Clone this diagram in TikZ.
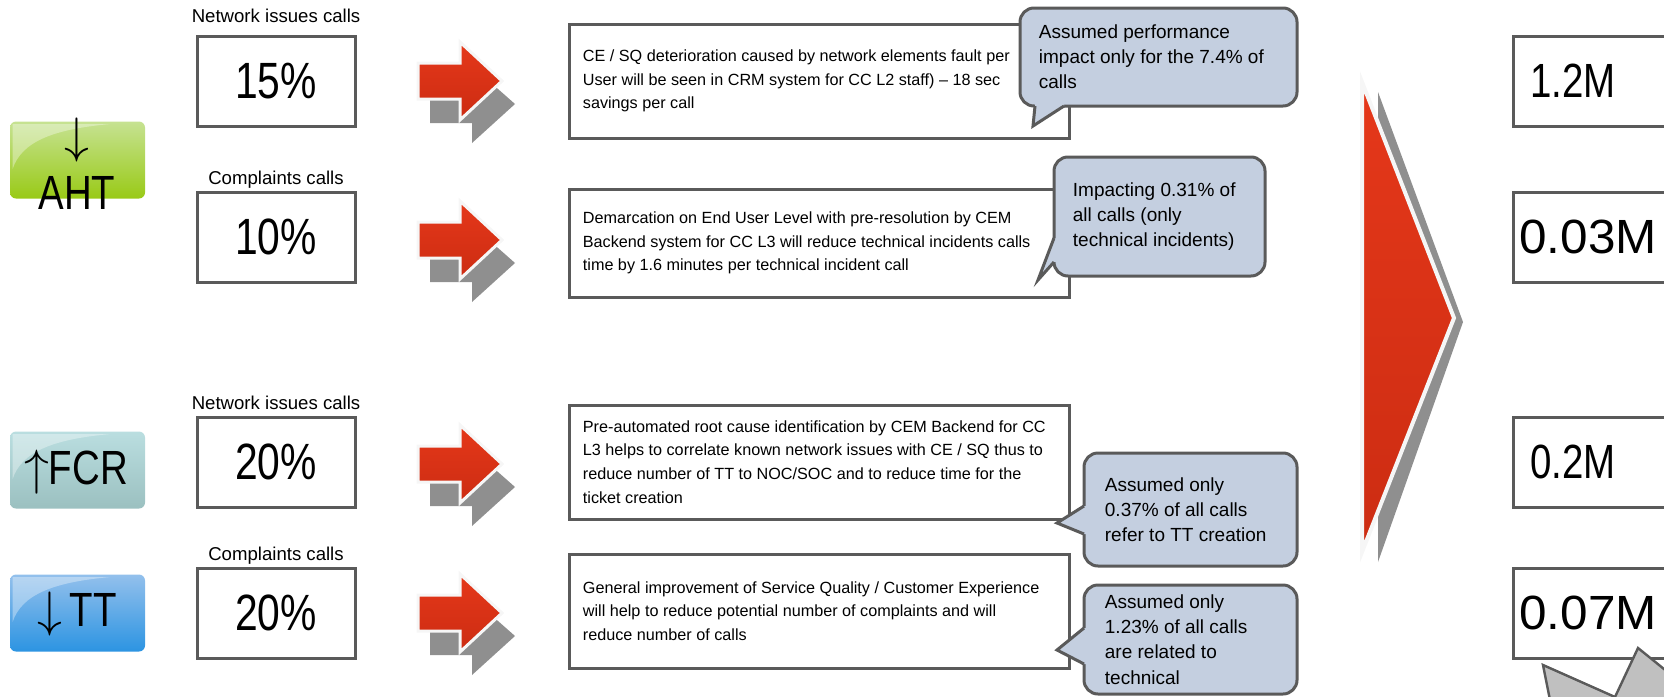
\documentclass[tikz,border=0pt]{standalone}
\usepackage{fontspec}
\setmainfont{Liberation Sans}
\newfontfamily\numfont[FakeStretch=0.8]{Liberation Sans}
\newfontfamily\widefont[FakeStretch=1.03]{Liberation Sans}
\usetikzlibrary{calc}

\definecolor{edgegray}{RGB}{90,90,90}
\definecolor{callfill}{RGB}{196,207,224}
\definecolor{redtop}{RGB}{229,56,26}
\definecolor{redbot}{RGB}{204,44,18}
\definecolor{shadowgray}{RGB}{143,143,143}
\definecolor{rimwhite}{RGB}{246,246,246}
\definecolor{greentop}{RGB}{198,226,146}
\definecolor{greenbot}{RGB}{153,202,22}
\definecolor{tealtop}{RGB}{186,222,224}
\definecolor{tealbot}{RGB}{155,192,192}
\definecolor{bluetop}{RGB}{147,192,236}
\definecolor{bluebot}{RGB}{44,148,226}
\definecolor{stargray}{RGB}{192,192,192}

\tikzset{
  pctbox/.style={draw=edgegray, line width=1.5pt, fill=white, minimum width=79pt,
    minimum height=45pt, inner sep=0pt, font=\numfont\fontsize{25.5}{25.5}\selectfont},
  descbox/.style={draw=edgegray, line width=1.5pt, fill=white, minimum width=250pt,
    minimum height=57pt, inner sep=0pt},
  valbox/.style={draw=edgegray, line width=1.5pt, fill=white, minimum width=100pt,
    minimum height=45pt, inner sep=0pt},
  calloutbox/.style={draw=edgegray, line width=1.5pt, fill=callfill, rounded corners=7pt,
    inner sep=0pt},
  tailfill/.style={fill=callfill},
  tailedge/.style={draw=edgegray, line width=1.5pt, line join=miter},
  calltext/.style={anchor=west, align=left, font=\fontsize{9.5}{12.6}\selectfont, inner sep=0pt},
  desctext/.style={anchor=west, align=left, font=\fontsize{8.1}{11.9}\selectfont, inner sep=0pt},
  rowlabel/.style={font=\fontsize{9.3}{11}\selectfont, inner sep=0pt},
  valtext/.style={font=\numfont\fontsize{24}{24}\selectfont, inner sep=0pt},
  valwide/.style={font=\widefont\fontsize{24}{24}\selectfont, inner sep=0pt},
  badge/.style={rounded corners=3pt, minimum width=67.5pt, minimum height=38.5pt, inner sep=0pt},
  badgetext/.style={font=\numfont\fontsize{24}{24}\selectfont, inner sep=0pt},
  gloss/.style={fill=white, opacity=0.35},
  arrowbody/.style={top color=redtop, bottom color=redbot, draw=rimwhite, line width=1.5pt},
  fatarrow/.pic={
    \fill[shadowgray] (-30,4) -- (12,4) -- (12,-15) -- (55,23) -- (12,62) -- (12,42) -- (-30,42) -- cycle;
    \path[arrowbody] (-42,-18) -- (0,-18) -- (0,-39) -- (42,0) -- (0,39) -- (0,18) -- (-42,18) -- cycle;
  },
}

\begin{document}
\begin{tikzpicture}[x=0.5pt, y=-0.5pt]
\useasboundingbox (0,0) rectangle (1664,696);
\clip (0,0) rectangle (1664,696);

% ---------- KPI badges ----------
\node[badge, top color=greentop, bottom color=greenbot] (aht) at (77.5,160) {};
\node[badge, top color=tealtop, bottom color=tealbot] (fcr) at (77.5,470) {};
\node[badge, top color=bluetop, bottom color=bluebot] (tt) at (77.5,613) {};
\foreach \b in {aht,fcr,tt}{
  \begin{scope}
    \clip[rounded corners=3pt] (\b.north west) rectangle (\b.south east);
    \fill[gloss] ($(\b.north west)+(3,3)$) -- ($(\b.north west)+(100,3)$)
      .. controls ($(\b.north west)+(45,8)$) and ($(\b.north west)+(12,20)$) ..
      ($(\b.north west)+(3,48)$) -- cycle;
  \end{scope}
}
\node[badgetext] (ahtarrow) at (77,140) {$\downarrow$};
\node[badgetext] (ahttext) at (77,193) {AHT};
\node[badgetext] (fcrtext) at (76,472) {$\uparrow$FCR};
\node[badgetext] (tttext) at (77,614) {$\downarrow$\,TT};

% ---------- share of calls ----------
\node[rowlabel] (l1) at (276,16) {Network issues calls};
\node[pctbox] (p1) at (276,81) {15\%};
\node[rowlabel] (l2) at (276,180) {Complaints calls};
\node[pctbox] (p2) at (276,237) {10\%};
\node[rowlabel] (l3) at (276,403) {Network issues calls};
\node[pctbox] (p3) at (276,462) {20\%};
\node[rowlabel] (l4) at (276,556) {Complaints calls};
\node[pctbox] (p4) at (276,613) {20\%};

% ---------- arrows ----------
\pic at (460,81) {fatarrow};
\pic at (460,240) {fatarrow};
\pic at (460,464) {fatarrow};
\pic at (460,613) {fatarrow};

% ---------- descriptions ----------
\node[descbox] (d1) at (819,81) {};
\node[desctext] (d1t) at ([xshift=7.5pt]d1.west) {CE / SQ deterioration caused by network elements fault per\\User will be seen in CRM system for CC L2 staff) -- 18 sec\\savings per call};
\node[descbox, minimum height=54pt] (d2) at (819,243) {};
\node[desctext] (d2t) at ([xshift=7.5pt]d2.west) {Demarcation on End User Level with pre-resolution by CEM\\Backend system for CC L3 will reduce technical incidents calls\\time by 1.6 minutes per technical incident call};
\node[descbox] (d3) at (819,462) {};
\node[desctext] (d3t) at ([xshift=7.5pt]d3.west) {Pre-automated root cause identification by CEM Backend for CC\\L3 helps to correlate known network issues with CE / SQ thus to\\reduce number of TT to NOC/SOC and to reduce time for the\\ticket creation};
\node[descbox] (d4) at (819,611) {};
\node[desctext] (d4t) at ([xshift=7.5pt]d4.west) {General improvement of Service Quality / Customer Experience\\will help to reduce potential number of complaints and will\\reduce number of calls};

% ---------- callouts ----------
\node[calloutbox, minimum width=138.5pt, minimum height=49pt] (c1) at (1158.5,57) {};
\coordinate (c1tip) at (1033,126);
\fill[tailfill] (1035,98) -- (1035,106) -- (c1tip) -- (1064,106) -- (1064,98) -- cycle;
\draw[tailedge] (1035,106) -- (c1tip) -- (1064,106);
\node[calltext] (c1t) at ([xshift=10pt]c1.west) {Assumed performance\\impact only for the 7.4\% of\\calls};

\node[calloutbox, minimum width=105.5pt, minimum height=59.5pt] (c2) at (1159.5,216.5) {};
\coordinate (c2tip) at (1038,280);
\fill[tailfill] (1062,238) -- (1054,238) -- (c2tip) -- (1054,262) -- (1062,262) -- cycle;
\draw[tailedge] (1054,238) -- (c2tip) -- (1054,262);
\node[calltext] (c2t) at ([xshift=10pt]c2.west) {Impacting 0.31\% of\\all calls (only\\technical incidents)};

\node[calloutbox, minimum width=106.5pt, minimum height=56.5pt] (c3) at (1190.5,509.5) {};
\coordinate (c3tip) at (1057,523);
\fill[tailfill] (1092,506) -- (1084,506) -- (c3tip) -- (1084,534) -- (1092,534) -- cycle;
\draw[tailedge] (1084,506) -- (c3tip) -- (1084,534);
\node[calltext] (c3t) at ([xshift=11pt]c3.west) {Assumed only\\0.37\% of all calls\\refer to TT creation};

\node[calloutbox, minimum width=106.5pt, minimum height=54.5pt] (c4) at (1190.5,639.5) {};
\coordinate (c4tip) at (1057,650);
\fill[tailfill] (1092,628) -- (1084,628) -- (c4tip) -- (1084,664) -- (1092,664) -- cycle;
\draw[tailedge] (1084,628) -- (c4tip) -- (1084,664);
\node[calltext] (c4t) at ([xshift=11pt]c4.west) {Assumed only\\1.23\% of all calls\\are related to\\technical};

% ---------- big arrow ----------
\fill[shadowgray] (1378,92) -- (1463,322) -- (1378,562) -- cycle;
\path[arrowbody, line width=2pt] (1362,82) -- (1454,318) -- (1362,552) -- cycle;

% ---------- savings ----------
\node[valbox] (v1) at (1613,81) {};
\node[valtext] (v1t) at (1573,81) {1.2M};
\node[valbox] (v2) at (1613,237) {};
\node[valwide] (v2t) at (1588,237) {0.03M};
\node[valbox] (v3) at (1613,462) {};
\node[valtext] (v3t) at (1573,462) {0.2M};
\node[valbox] (v4) at (1613,613) {};
\node[valwide] (v4t) at (1588,613) {0.07M};

% ---------- burst ----------
\filldraw[fill=stargray, draw=edgegray, line width=1.2pt]
  (1552,710) -- (1543,665) -- (1615,697) -- (1638,648) -- (1680,682) -- (1680,710) -- cycle;
\end{tikzpicture}
\end{document}
